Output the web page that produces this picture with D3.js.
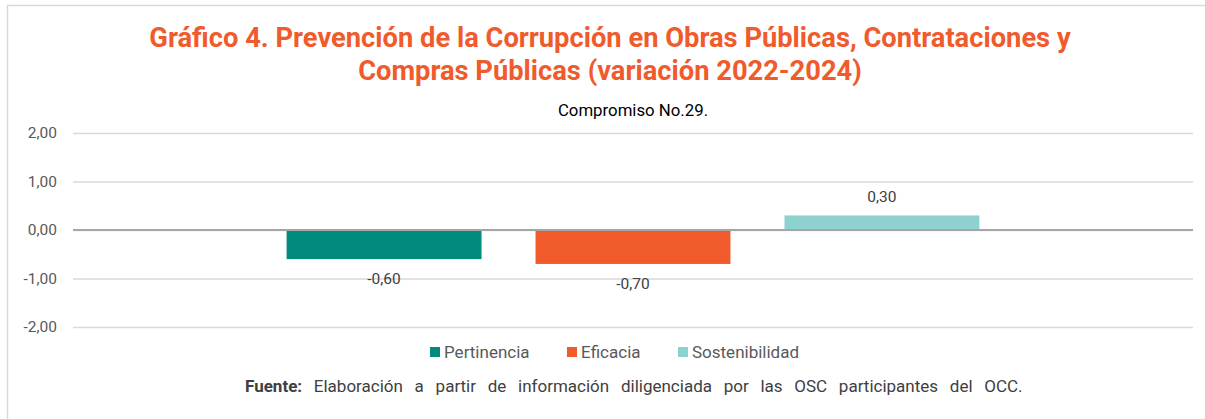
<!DOCTYPE html>
<html>
<head>
<meta charset="utf-8">
<script src="https://cdn.jsdelivr.net/npm/d3@7"></script>
<style>
  body { margin: 0; background: #fff; }
  svg { display: block; font-family: Roboto, "Noto Sans", sans-serif; }
</style>
</head>
<body>
<svg id="chart" width="1205" height="419"></svg>
<script>
// data
var categories = ["Compromiso No.29."];
var series = ["Pertinencia", "Eficacia", "Sostenibilidad"];
var values = [-0.60, -0.70, 0.30];
var colors = ["#008B7D", "#F15A2B", "#8DD2CE"];
var yTicks = [2, 1, 0, -1, -2];

function drawChart() {
    var svg = d3.select("#chart"), width = 1205, height = 419;

    var fmt = function(v) { return d3.format(".2f")(v).replace(".", ",").replace("\u2212", "-"); };

    // frame
    svg.append("rect")
        .attr("x", 7.5).attr("y", 5.5)
        .attr("width", 1210).attr("height", 430)
        .attr("fill", "none")
        .attr("stroke", "#D9D9D9")
        .attr("stroke-width", 1.5);

    // titles
    var title = svg.append("text")
        .attr("text-anchor", "middle")
        .attr("fill", "#F15A2B")
        .attr("font-weight", "bold")
        .attr("font-size", 27.3);
    title.append("tspan").attr("x", 610).attr("y", 47)
        .text("Gráfico 4. Prevención de la Corrupción en Obras Públicas, Contrataciones y");
    title.append("tspan").attr("x", 610).attr("y", 80)
        .text("Compras Públicas (variación 2022-2024)");

    svg.append("text")
        .attr("x", 633).attr("y", 116)
        .attr("text-anchor", "middle")
        .attr("font-size", 16.8)
        .attr("fill", "#000")
        .text(categories[0]);

    var y = d3.scaleLinear().domain([-2, 2]).range([327, 133]);

    var x0 = d3.scaleBand().domain(categories).range([73, 1193]);
    var x1 = d3.scaleBand().domain(series)
        .range([0, x0.bandwidth()])
        .paddingInner(0.217)
        .paddingOuter(0.858);

    // gridlines + tick labels
    var yAxis = d3.axisLeft(y)
        .tickValues(yTicks)
        .tickSize(-1120)
        .tickPadding(16)
        .tickFormat(fmt);

    var g = svg.append("g")
        .attr("transform", "translate(73,0)")
        .call(yAxis);
    g.select(".domain").remove();
    g.selectAll(".tick line")
        .attr("stroke", "#D9D9D9")
        .attr("stroke-width", 1.3);
    g.selectAll(".tick text")
        .attr("fill", "#595959")
        .attr("font-size", 15.5)
        .attr("font-family", "Roboto, sans-serif");

    // bars
    var bars = svg.append("g")
        .attr("transform", "translate(" + x0(categories[0]) + ",0)");

    bars.selectAll("rect")
        .data(values)
        .enter()
        .append("rect")
        .attr("x", function(d, i) { return x1(series[i]); })
        .attr("y", function(d) { return y(Math.max(0, d)); })
        .attr("width", x1.bandwidth())
        .attr("height", function(d) { return Math.abs(y(d) - y(0)); })
        .attr("fill", function(d, i) { return colors[i]; });

    bars.selectAll("text")
        .data(values)
        .enter()
        .append("text")
        .attr("x", function(d, i) { return x1(series[i]) + x1.bandwidth() / 2; })
        .attr("y", function(d) { return d < 0 ? y(d) + 25 : y(d) - 13; })
        .attr("text-anchor", "middle")
        .attr("font-size", 15.5)
        .attr("fill", "#404040")
        .text(function(d) { return fmt(d); });

    // zero line
    svg.append("line")
        .attr("x1", 73).attr("x2", 1193)
        .attr("y1", y(0)).attr("y2", y(0))
        .attr("stroke", "#A6A6A6")
        .attr("stroke-width", 2);

    // legend
    var legendX = [430, 567, 678];
    var legend = svg.append("g").selectAll("g")
        .data(series)
        .enter()
        .append("g")
        .attr("transform", function(d, i) { return "translate(" + legendX[i] + ",347)"; });
    legend.append("rect")
        .attr("width", 10).attr("height", 10)
        .attr("fill", function(d, i) { return colors[i]; });
    legend.append("text")
        .attr("x", 14).attr("y", 11)
        .attr("font-size", 17)
        .attr("fill", "#595959")
        .text(function(d) { return d; });

    // source
    var src = svg.append("text")
        .attr("x", 245).attr("y", 392)
        .attr("font-size", 17)
        .attr("fill", "#404040")
        .attr("word-spacing", 7.5);
    src.append("tspan").attr("font-weight", "bold").text("Fuente:");
    src.append("tspan").text(" Elaboración  a partir de información diligenciada por las OSC participantes del OCC.");
}

drawChart();
</script>
</body>
</html>
